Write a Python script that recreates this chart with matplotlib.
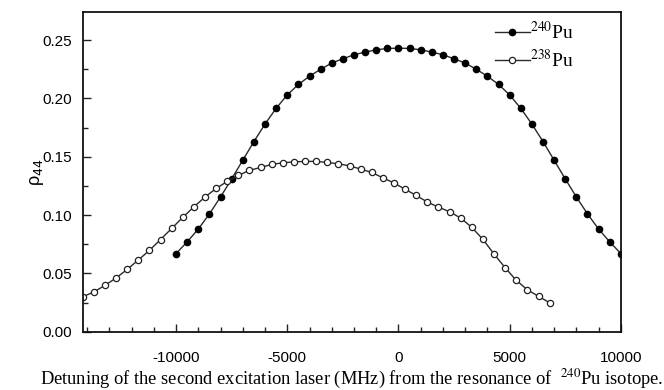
import matplotlib
matplotlib.use("Agg")
import matplotlib.pyplot as plt
from matplotlib.ticker import MultipleLocator

# 240Pu (filled circles)
x_240 = list(range(-10000, 10001, 500))
y_240 = [0.067, 0.077, 0.088, 0.101, 0.1155, 0.131, 0.147, 0.163, 0.178, 0.1915,
         0.203, 0.212, 0.219, 0.225, 0.2303, 0.234, 0.2374, 0.2397, 0.2417, 0.2428,
         0.2431,
         0.2428, 0.2417, 0.2397, 0.2374, 0.234, 0.2303, 0.225, 0.219, 0.212, 0.203,
         0.1915, 0.178, 0.163, 0.147, 0.131, 0.1155, 0.101, 0.088, 0.077, 0.067]

# 238Pu (open circles)
x_238 = list(range(-14200, 6801, 500))
y_238 = [0.030, 0.034, 0.0397, 0.046, 0.0534, 0.0614, 0.0697, 0.079, 0.0885, 0.098,
         0.107, 0.1154, 0.1228, 0.1288, 0.134, 0.1383, 0.1408, 0.1434, 0.1448, 0.1456,
         0.146, 0.146, 0.1451, 0.1439, 0.1422, 0.1394, 0.1365, 0.1319, 0.1275, 0.1221,
         0.1168, 0.1111, 0.1068, 0.1028, 0.0974, 0.0894, 0.0791, 0.0665, 0.0548, 0.044,
         0.0359, 0.0303, 0.0248]

x_ticks = [-10000, -5000, 0, 5000, 10000]
y_ticks = [0.00, 0.05, 0.10, 0.15, 0.20, 0.25]
labels = [r"$^{240}$Pu", r"$^{238}$Pu"]

plt.rcParams["font.family"] = ["Liberation Sans", "DejaVu Sans"]
plt.rcParams["axes.unicode_minus"] = False

fig = plt.figure(figsize=(6.64, 3.9), dpi=100)
ax = fig.add_axes([0.1245, 0.1495, 0.8105, 0.8195])

ax.plot(x_240, y_240, color="#2a2a2a", lw=1.0, marker="o", ms=4.5,
        mfc="black", mec="black", label=labels[0])
ax.plot(x_238, y_238, color="#2a2a2a", lw=1.0, marker="o", ms=4.5,
        mfc="white", mec="#222222", mew=0.9, label=labels[1])

ax.set_xlim(-14200, 10000)
ax.set_ylim(0, 0.274)
ax.set_xticks(x_ticks)
ax.set_xticklabels([str(v) for v in x_ticks])
ax.set_yticks(y_ticks)
ax.set_yticklabels([f"{v:.2f}" for v in y_ticks])
ax.xaxis.set_minor_locator(MultipleLocator(1000))
ax.yaxis.set_minor_locator(MultipleLocator(0.025))
ax.tick_params(which="both", direction="in", top=False, right=False,
               labelsize=11, width=1.0, color="#222222")
ax.tick_params(which="major", length=6)
ax.tick_params(axis="x", which="major", pad=14)
ax.tick_params(axis="y", which="major", pad=8)
ax.tick_params(which="minor", length=3.5)
for s in ax.spines.values():
    s.set_linewidth(1.3)
    s.set_color("#111111")

ax.set_xlabel(r"Detuning of the second excitation laser (MHz) from the resonance of  $^{240}$Pu isotope.",
              family="Liberation Serif", fontsize=13.3, math_fontfamily="stix", labelpad=2)
ax.set_ylabel("ρ$_{44}$", fontsize=13, math_fontfamily="dejavusans", labelpad=-3)

leg = ax.legend(loc="upper left", bbox_to_anchor=(0.74, 1.015), frameon=False,
                prop={"family": "Liberation Serif", "size": 14, "math_fontfamily": "stix"},
                handlelength=1.8, handletextpad=0.0, labelspacing=0.3, borderpad=0.2)

fig.savefig("out.png", dpi=100)
